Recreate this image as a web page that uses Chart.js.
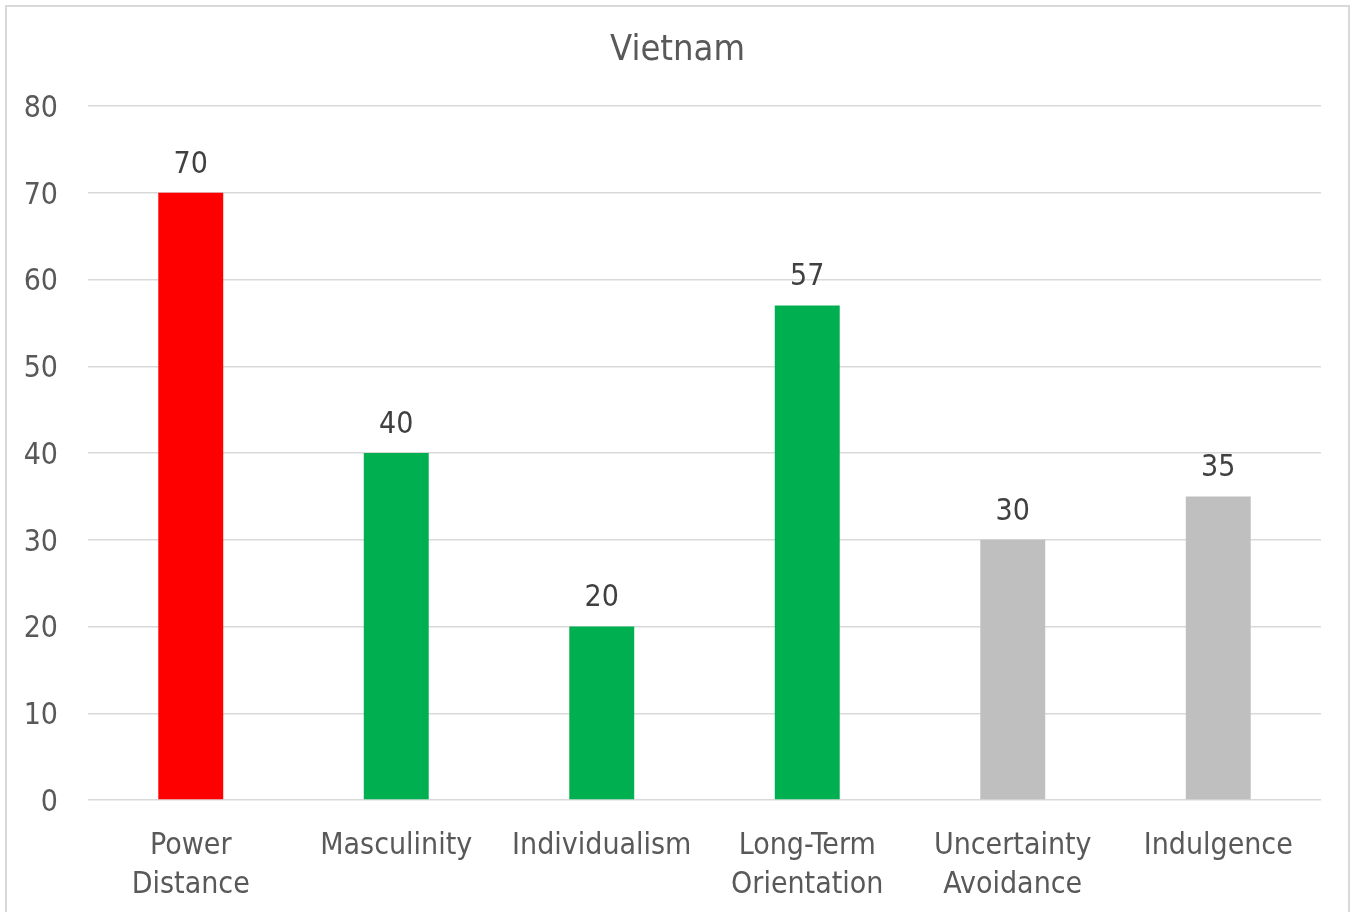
<!DOCTYPE html>
<html>
<head>
<meta charset="utf-8">
<script src="https://cdn.jsdelivr.net/npm/chart.js@4/dist/chart.umd.min.js"></script>
<style>
  html, body { margin: 0; padding: 0; background: #fff; overflow: hidden; }
  #box {
    position: absolute; left: 5px; top: 5px;
    width: 1341px; height: 916px;
    border: 2px solid #d9d9d9;
  }
  canvas { display: block; }
</style>
</head>
<body>
<div id="box"><canvas id="grafico" width="1341" height="916"></canvas></div>
<script>
// datos del gráfico
const dimensiones = [['Power', 'Distance'], 'Masculinity', 'Individualism', ['Long-Term', 'Orientation'], ['Uncertainty', 'Avoidance'], 'Indulgence'];
const puntajes = [70, 40, 20, 57, 30, 35];
const colores = ['#ff0000', '#00b050', '#00b050', '#00b050', '#bfbfbf', '#bfbfbf'];
const marcasY = [0, 10, 20, 30, 40, 50, 60, 70, 80];
const titulo = 'Vietnam';

const fuente = "'DejaVu Sans Condensed', 'DejaVu Sans', sans-serif";
const gris = '#595959';

// título centrado sobre todo el lienzo y etiquetas de valor encima de cada barra
const textos = {
  id: 'textos',
  afterDatasetsDraw(chart) {
    const ctx = chart.ctx;
    const meta = chart.getDatasetMeta(0);
    ctx.save();
    ctx.textAlign = 'center';
    ctx.textBaseline = 'middle';

    ctx.font = '36px ' + fuente;
    ctx.fillStyle = gris;
    ctx.fillText(titulo, chart.width / 2, 44);

    ctx.font = '30px ' + fuente;
    ctx.fillStyle = '#404040';
    meta.data.forEach((barra, i) => {
      ctx.fillText(String(puntajes[i]), barra.x, barra.y - 28);
    });
    ctx.restore();
  }
};

new Chart(document.getElementById('grafico'), {
  type: 'bar',
  data: {
    labels: dimensiones,
    datasets: [{
      data: puntajes,
      backgroundColor: colores,
      categoryPercentage: 1,
      barPercentage: 0.316
    }]
  },
  options: {
    responsive: false,
    animation: false,
    layout: { padding: { left: 0, right: 27, top: 99, bottom: 0 } },
    plugins: {
      legend: { display: false },
      tooltip: { enabled: false },
      title: { display: false }
    },
    scales: {
      x: {
        grid: { display: false, drawTicks: false },
        border: { display: false },
        ticks: {
          color: gris,
          font: { family: fuente, size: 30, lineHeight: 1.3 },
          padding: 27,
          maxRotation: 0,
          autoSkip: false
        },
        afterFit(s) { s.height = 123; }
      },
      y: {
        min: 0,
        max: 80,
        afterBuildTicks(s) { s.ticks = marcasY.map(v => ({ value: v })); },
        grid: { color: '#d9d9d9', lineWidth: 1.5, drawTicks: false },
        border: { display: false },
        ticks: {
          color: gris,
          font: { family: fuente, size: 30 },
          padding: 30,
          labelOffset: 3
        },
        afterFit(s) { s.width = 81; }
      }
    }
  },
  plugins: [textos]
});
</script>
</body>
</html>
